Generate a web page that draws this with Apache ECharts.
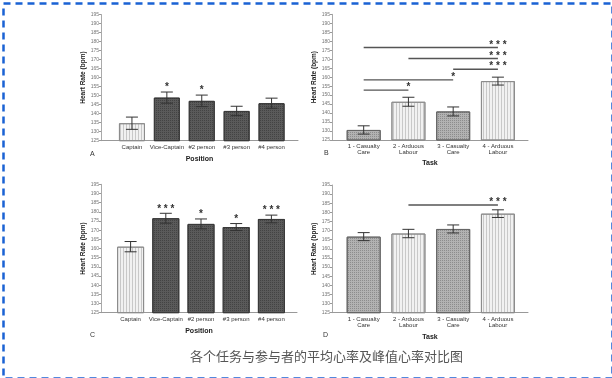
<!DOCTYPE html>
<html><head><meta charset="utf-8">
<script src="https://cdn.jsdelivr.net/npm/echarts@6/dist/echarts.min.js"></script>
<style>html,body{margin:0;padding:0;background:#fff}#c{width:612px;height:378px}</style>
</head><body><div id="c"></div><script>
// ---- data ----
const positions = ['Captain', 'Vice-Captain', '#2 person', '#3 person', '#4 person'];
const tasks = ['1 - Casualty\nCare', '2 - Arduous\nLabour', '3 - Casualty\nCare', '4 - Arduous\nLabour'];
const yMin = 125, yMax = 195, yStep = 5;

const meanByPosition = [134.7, 148.9, 147.1, 141.5, 145.8];
const errMeanByPosition = [3.4, 3.1, 3.2, 2.6, 2.8];
const sigMeanByPosition = ['', '*', '*', '', ''];

const meanByTask = [130.6, 146.3, 140.9, 157.8];
const errMeanByTask = [2.3, 2.5, 2.5, 2.2];
// [fromIndex, toIndex, level, label]
const sigMeanByTask = [[0, 3, 176.5, '* * *'], [1, 3, 170.4, '* * *'], [2, 3, 164.4, '* * *'], [0, 2, 158.5, '*'], [0, 1, 152.8, '*']];

const peakByPosition = [161.0, 176.5, 173.4, 171.7, 176.1];
const errPeakByPosition = [2.8, 2.7, 2.7, 1.9, 2.1];
const sigPeakByPosition = ['', '* * *', '*', '*', '* * *'];

const peakByTask = [166.7, 168.4, 170.9, 179.3];
const errPeakByTask = [2.2, 2.3, 2.2, 2.1];
const sigPeakByTask = [[1, 3, 184.0, '* * *']];

// ---- styles ----
const FONT = '"Liberation Sans", Arial, sans-serif';
const STARFONT = 'bold 10px ' + FONT;
const styleLight = {color: '#f1f1f1', borderColor: '#8c8c8c', borderWidth: 1,
  decal: {symbol: 'rect', symbolSize: 1, dashArrayX: [1, 2], dashArrayY: [10, 0], color: 'rgba(150,150,150,0.45)'}};
const styleDark = {color: '#5a5a5a', borderColor: '#3a3a3a', borderWidth: 1,
  decal: {symbol: 'rect', symbolSize: 1, dashArrayX: [1, 1], dashArrayY: [1, 1], color: 'rgba(0,0,0,0.25)'}};
const styleMid = {color: '#b2b2b2', borderColor: '#666', borderWidth: 1,
  decal: {symbol: 'rect', symbolSize: 1, dashArrayX: [1, 1], dashArrayY: [1, 1], color: 'rgba(70,70,70,0.35)'}};

const panels = [
  {letter: 'A', cats: positions, vals: meanByPosition, errs: errMeanByPosition, stars: sigMeanByPosition, sigLines: null,
   styles: [styleLight, styleDark, styleDark, styleDark, styleDark], xName: 'Position',
   ax: {left: 101, top: 14.5, width: 197, height: 126.2}, barLeft: 114.5, barWidthGrid: 174.5, bw: 26,
   nameGapY: 9, nameGapX: 15, letterPos: [93, 155]},
  {letter: 'B', cats: tasks, vals: meanByTask, errs: errMeanByTask, stars: null, sigLines: sigMeanByTask,
   styles: [styleMid, styleLight, styleMid, styleLight], xName: 'Task',
   ax: {left: 332, top: 14.3, width: 196, height: 125.7}, barLeft: 341.3, barWidthGrid: 179, bw: 34,
   nameGapY: 14, nameGapX: 20, letterPos: [327, 154]},
  {letter: 'C', cats: positions, vals: peakByPosition, errs: errPeakByPosition, stars: sigPeakByPosition, sigLines: null,
   styles: [styleLight, styleDark, styleDark, styleDark, styleDark], xName: 'Position',
   ax: {left: 101, top: 184.3, width: 196, height: 128.4}, barLeft: 113, barWidthGrid: 176, bw: 27,
   nameGapY: 11, nameGapX: 15, letterPos: [93, 336]},
  {letter: 'D', cats: tasks, vals: peakByTask, errs: errPeakByTask, stars: null, sigLines: sigPeakByTask,
   styles: [styleMid, styleLight, styleMid, styleLight], xName: 'Task',
   ax: {left: 332, top: 185, width: 196, height: 127.7}, barLeft: 341.3, barWidthGrid: 179, bw: 34,
   nameGapY: 14, nameGapX: 21, letterPos: [326, 336]}
];

const grid = [], xAxis = [], yAxis = [], series = [], graphic = [];
panels.forEach((p) => {
  const gA = grid.length;
  grid.push({left: p.ax.left, top: p.ax.top, width: p.ax.width, height: p.ax.height});
  grid.push({left: p.barLeft, top: p.ax.top, width: p.barWidthGrid, height: p.ax.height});
  const gB = gA + 1;
  xAxis.push({gridIndex: gA, type: 'value', min: 0, max: 1, axisLabel: {show: false}, axisTick: {show: false},
    splitLine: {show: false}, axisLine: {show: true, lineStyle: {color: '#999', width: 1}},
    name: p.xName, nameLocation: 'middle', nameGap: p.nameGapX,
    nameTextStyle: {fontSize: 7, fontWeight: 'bold', color: '#222', fontFamily: FONT}});
  yAxis.push({gridIndex: gA, type: 'value', min: yMin, max: yMax, interval: yStep,
    axisLine: {show: true, lineStyle: {color: '#aaa', width: 1}},
    axisTick: {show: true, length: 2, lineStyle: {color: '#999'}},
    axisLabel: {fontSize: 5, color: '#777', margin: 2, fontFamily: FONT},
    splitLine: {show: false},
    name: 'Heart Rate (bpm)', nameLocation: 'middle', nameRotate: 90, nameGap: p.nameGapY,
    nameTextStyle: {fontSize: 6.5, fontWeight: 'bold', color: '#222', fontFamily: FONT}});
  const xi = xAxis.length;
  xAxis.push({gridIndex: gB, type: 'category', data: p.cats, boundaryGap: true,
    axisLine: {show: false}, axisTick: {show: false},
    axisLabel: {interval: 0, fontSize: 6, color: '#333', margin: 3, lineHeight: 6.5, fontFamily: FONT}});
  const yi = yAxis.length;
  yAxis.push({gridIndex: gB, type: 'value', min: yMin, max: yMax, show: false, splitLine: {show: false}});
  series.push({type: 'bar', xAxisIndex: xi, yAxisIndex: yi, barWidth: p.bw, z: 2,
    data: p.vals.map((v, i) => ({value: v, itemStyle: p.styles[i]}))});
  const vals = p.vals, errs = p.errs, stars = p.stars;
  series.push({type: 'custom', xAxisIndex: xi, yAxisIndex: yi, z: 4,
    data: vals.map((v, i) => [i, v]),
    renderItem: function (params, api) {
      const i = params.dataIndex;
      const t = api.coord([i, vals[i] + errs[i]]);
      const b = api.coord([i, vals[i] - errs[i]]);
      const hw = 6, st = {stroke: '#333', lineWidth: 1};
      const ch = [
        {type: 'line', shape: {x1: t[0], y1: t[1], x2: b[0], y2: b[1]}, style: st},
        {type: 'line', shape: {x1: t[0] - hw, y1: t[1], x2: t[0] + hw, y2: t[1]}, style: st},
        {type: 'line', shape: {x1: b[0] - hw, y1: b[1], x2: b[0] + hw, y2: b[1]}, style: st}
      ];
      if (stars && stars[i]) {
        ch.push({type: 'text', style: {text: stars[i], x: t[0], y: t[1] - 4.5, align: 'center', verticalAlign: 'middle',
          font: STARFONT, fill: '#333'}});
      }
      return {type: 'group', children: ch};
    }});
  if (p.sigLines) {
    const sl = p.sigLines;
    series.push({type: 'custom', xAxisIndex: xi, yAxisIndex: yi, z: 5,
      data: sl.map(s => [s[0], s[2]]),
      renderItem: function (params, api) {
        const s = sl[params.dataIndex];
        const a = api.coord([s[0], s[2]]);
        const c = api.coord([s[1], s[2]]);
        return {type: 'group', children: [
          {type: 'line', shape: {x1: a[0], y1: a[1], x2: c[0], y2: c[1]}, style: {stroke: '#555', lineWidth: 1.4}},
          {type: 'text', style: {text: s[3], x: c[0], y: a[1] - 2.5, align: 'center', verticalAlign: 'middle',
            font: STARFONT, fill: '#333'}}
        ]};
      }});
  }
  graphic.push({type: 'text', left: p.letterPos[0] - 3, top: p.letterPos[1] - 4,
    style: {text: p.letter, font: '7px ' + FONT, fill: '#333'}});
});

graphic.push({type: 'text', left: 190, top: 350,
  style: {text: '各个任务与参与者的平均心率及峰值心率对比图', font: '13px "Noto Sans CJK SC", sans-serif', fill: '#555'}});
graphic.push({type: 'rect', left: 1, top: 1, z: 100, silent: true,
  shape: {width: 609, height: 375},
  style: {fill: 'none', stroke: '#1a62d4', lineWidth: 2.5, lineDash: [7, 5]}});

const chart = echarts.init(document.getElementById('c'), null, {renderer: 'canvas'});
chart.setOption({animation: false, backgroundColor: '#fff', grid, xAxis, yAxis, series, graphic});
</script></body></html>
